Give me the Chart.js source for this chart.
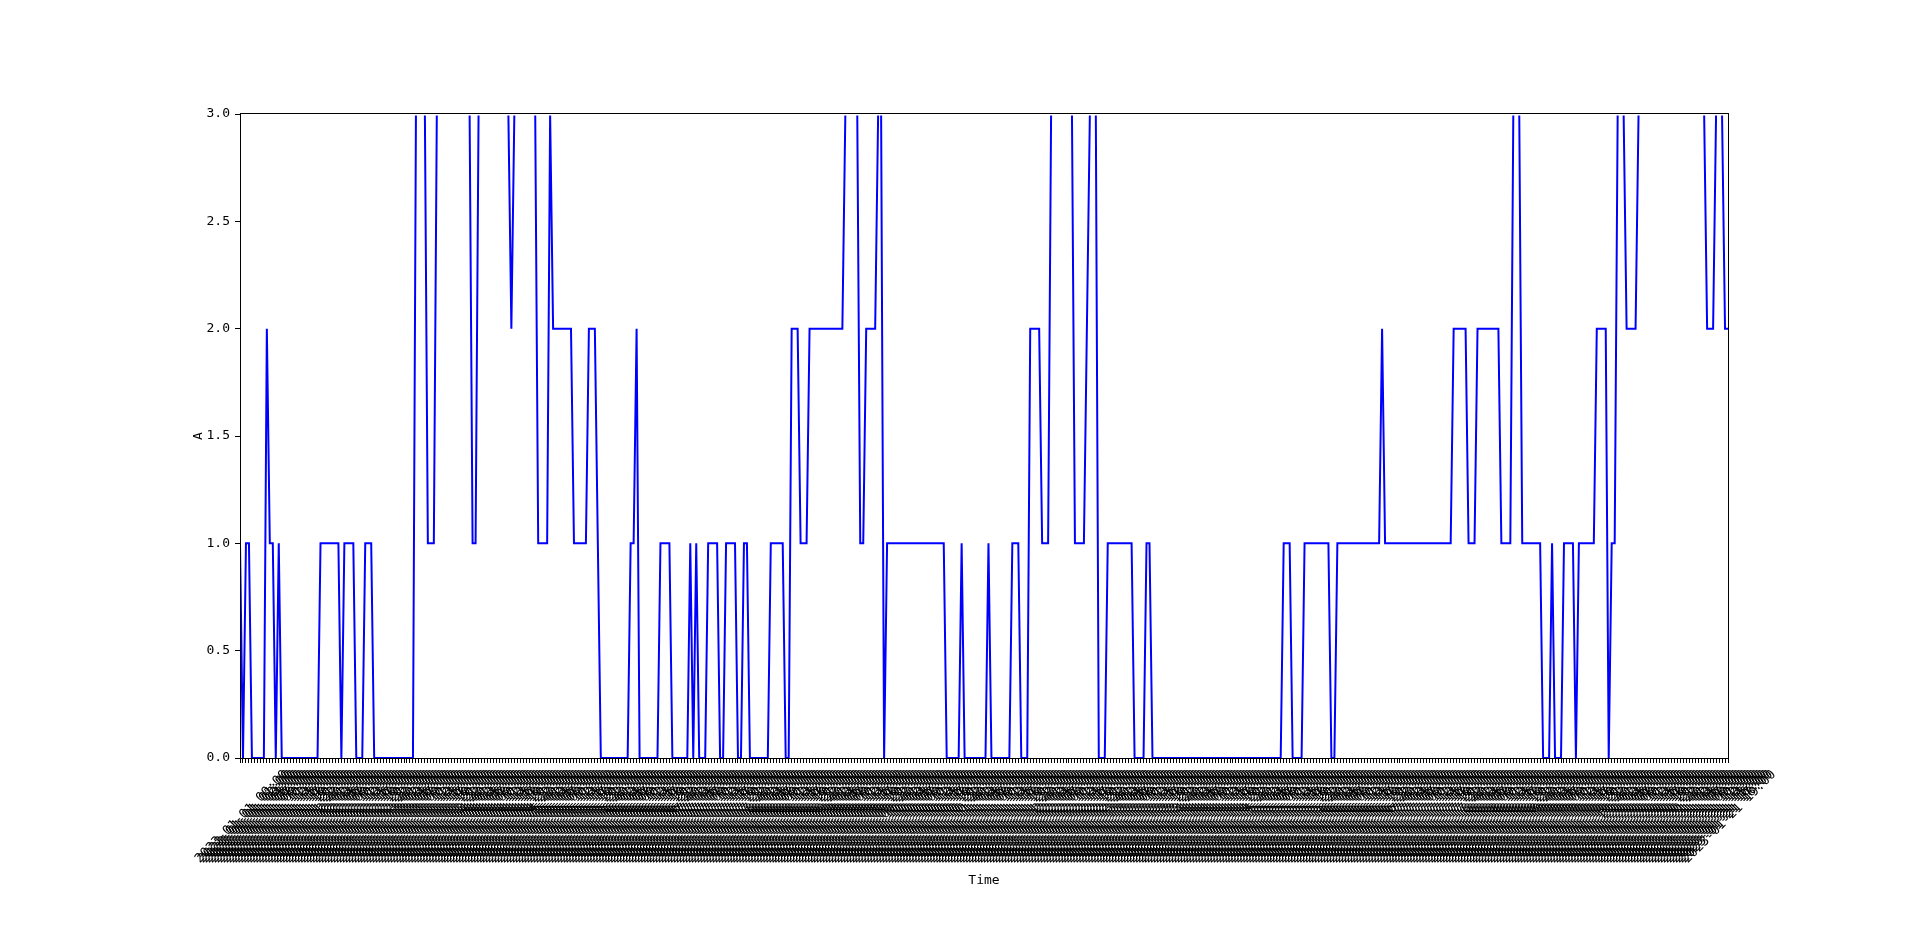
<!DOCTYPE html>
<html><head><meta charset="utf-8">
<script src="https://cdn.jsdelivr.net/npm/chart.js@4.4.0/dist/chart.umd.min.js"></script>
<style>html,body{margin:0;padding:0;background:#fff;overflow:hidden}canvas{display:block}</style>
</head><body>
<canvas id="c" width="1920" height="947"></canvas>
<script>
// ---- data ----
const seriesName = 'A';
const xTitle = 'Time';
const yTickValues = [0, 0.5, 1, 1.5, 2, 2.5, 3];
const valuesA = [
  1,0,1,1,0,0,0,0,0,2, 1,1,0,1,0,0,0,0,0,0, 0,0,0,0,0,0,0,1,1,1, 1,1,1,1,0,1,1,1,1,0,
  0,0,1,1,1,0,0,0,0,0, 0,0,0,0,0,0,0,0,0,3, 3,3,3,1,1,1,3,3,3,3, 3,3,3,3,3,3,3,3,1,1,
  3,3,3,3,3,3,3,3,3,3, 3,2,3,3,3,3,3,3,3,3, 1,1,1,1,3,2,2,2,2,2, 2,2,1,1,1,1,1,2,2,2,
  1,0,0,0,0,0,0,0,0,0, 0,1,1,2,0,0,0,0,0,0, 0,1,1,1,1,0,0,0,0,0, 0,1,0,1,0,0,0,1,1,1,
  1,0,0,1,1,1,1,0,0,1, 1,0,0,0,0,0,0,0,1,1, 1,1,1,0,0,2,2,2,1,1, 1,2,2,2,2,2,2,2,2,2,
  2,2,2,3,3,3,3,3,1,1, 2,2,2,2,3,3,0,1,1,1, 1,1,1,1,1,1,1,1,1,1, 1,1,1,1,1,1,1,0,0,0,
  0,0,1,0,0,0,0,0,0,0, 0,1,0,0,0,0,0,0,0,1, 1,1,0,0,0,2,2,2,2,1, 1,1,3,3,3,3,3,3,3,3,
  1,1,1,1,2,3,3,3,0,0, 0,1,1,1,1,1,1,1,1,1, 0,0,0,0,1,1,0,0,0,0, 0,0,0,0,0,0,0,0,0,0,
  0,0,0,0,0,0,0,0,0,0, 0,0,0,0,0,0,0,0,0,0, 0,0,0,0,0,0,0,0,0,0, 1,1,1,0,0,0,0,1,1,1,
  1,1,1,1,1,1,0,0,1,1, 1,1,1,1,1,1,1,1,1,1, 1,1,1,2,1,1,1,1,1,1, 1,1,1,1,1,1,1,1,1,1,
  1,1,1,1,1,1,1,2,2,2, 2,2,1,1,1,2,2,2,2,2, 2,2,2,1,1,1,1,3,3,3, 1,1,1,1,1,1,1,0,0,0,
  1,0,0,0,1,1,1,1,0,1, 1,1,1,1,1,2,2,2,2,0, 1,1,3,3,3,2,2,2,2,3, 3,3,3,3,3,3,3,3,3,3,
  3,3,3,3,3,3,3,3,3,3, 3,3,2,2,2,3,3,3,2,2
];
// category labels: hourly timestamps (the reference labels overlap and are unreadable)
const startYear = 2023, startMonth = 1, startDay = 1;
const timeLabels = [];
for (let k = 0; k < valuesA.length; k++) {
  const d = new Date(Date.UTC(startYear, startMonth - 1, startDay, k));
  const p = n => String(n).padStart(2, '0');
  timeLabels.push(d.getUTCFullYear() + '-' + p(d.getUTCMonth() + 1) + '-' + p(d.getUTCDate()) + ' ' + p(d.getUTCHours()) + ':00');
}

const FONT = '"DejaVu Sans Mono", "Liberation Mono", monospace';

const frame = {
  id: 'frame',
  afterDraw(chart) {
    const a = chart.chartArea, c = chart.ctx;
    c.save();
    c.strokeStyle = '#000';
    c.lineWidth = 1;
    c.strokeRect(Math.round(a.left) + 0.5, Math.round(a.top) - 0.5, Math.round(a.right) - Math.round(a.left), Math.round(a.bottom) - Math.round(a.top) + 1);
    c.restore();
  }
};

new Chart(document.getElementById('c'), {
  type: 'line',
  data: {
    labels: timeLabels,
    datasets: [{
      label: seriesName,
      data: valuesA,
      borderColor: '#0000ff',
      borderWidth: 2,
      pointRadius: 0,
      tension: 0,
      fill: false,
      clip: { left: 0, right: 0, top: -1.4, bottom: 0 }
    }]
  },
  options: {
    responsive: false,
    animation: false,
    devicePixelRatio: 1,
    layout: { padding: { left: 190.5, right: 192, top: 114, bottom: 58.5 } },
    plugins: { legend: { display: false }, tooltip: { enabled: false } },
    scales: {
      x: {
        type: 'category',
        offset: false,
        grid: { display: true, drawOnChartArea: false, drawTicks: true, tickLength: 5, color: '#000', lineWidth: 1 },
        border: { display: true, color: '#000', width: 1 },
        ticks: { autoSkip: false, maxRotation: 45, minRotation: 45, padding: 4, labelOffset: 46, color: '#000', font: { family: FONT, size: 13 } },
        title: { display: true, text: xTitle, color: '#000', font: { family: FONT, size: 13 }, padding: 0 },
        afterFit: s => { s.height = 130.5; }
      },
      y: {
        min: 0, max: 3,
        afterBuildTicks: s => { s.ticks = yTickValues.map(v => ({ value: v })); },
        grid: { display: true, drawOnChartArea: false, drawTicks: true, tickLength: 5, color: '#000', lineWidth: 1 },
        border: { display: true, color: '#000', width: 1 },
        ticks: { padding: 5, color: '#000', font: { family: FONT, size: 13 }, callback: v => Number(v).toFixed(1) },
        title: { display: true, text: seriesName, color: '#000', font: { family: FONT, size: 13 }, padding: 0 },
        afterFit: s => { s.width = 49.5; }
      }
    }
  },
  plugins: [frame]
});
</script>
</body></html>
